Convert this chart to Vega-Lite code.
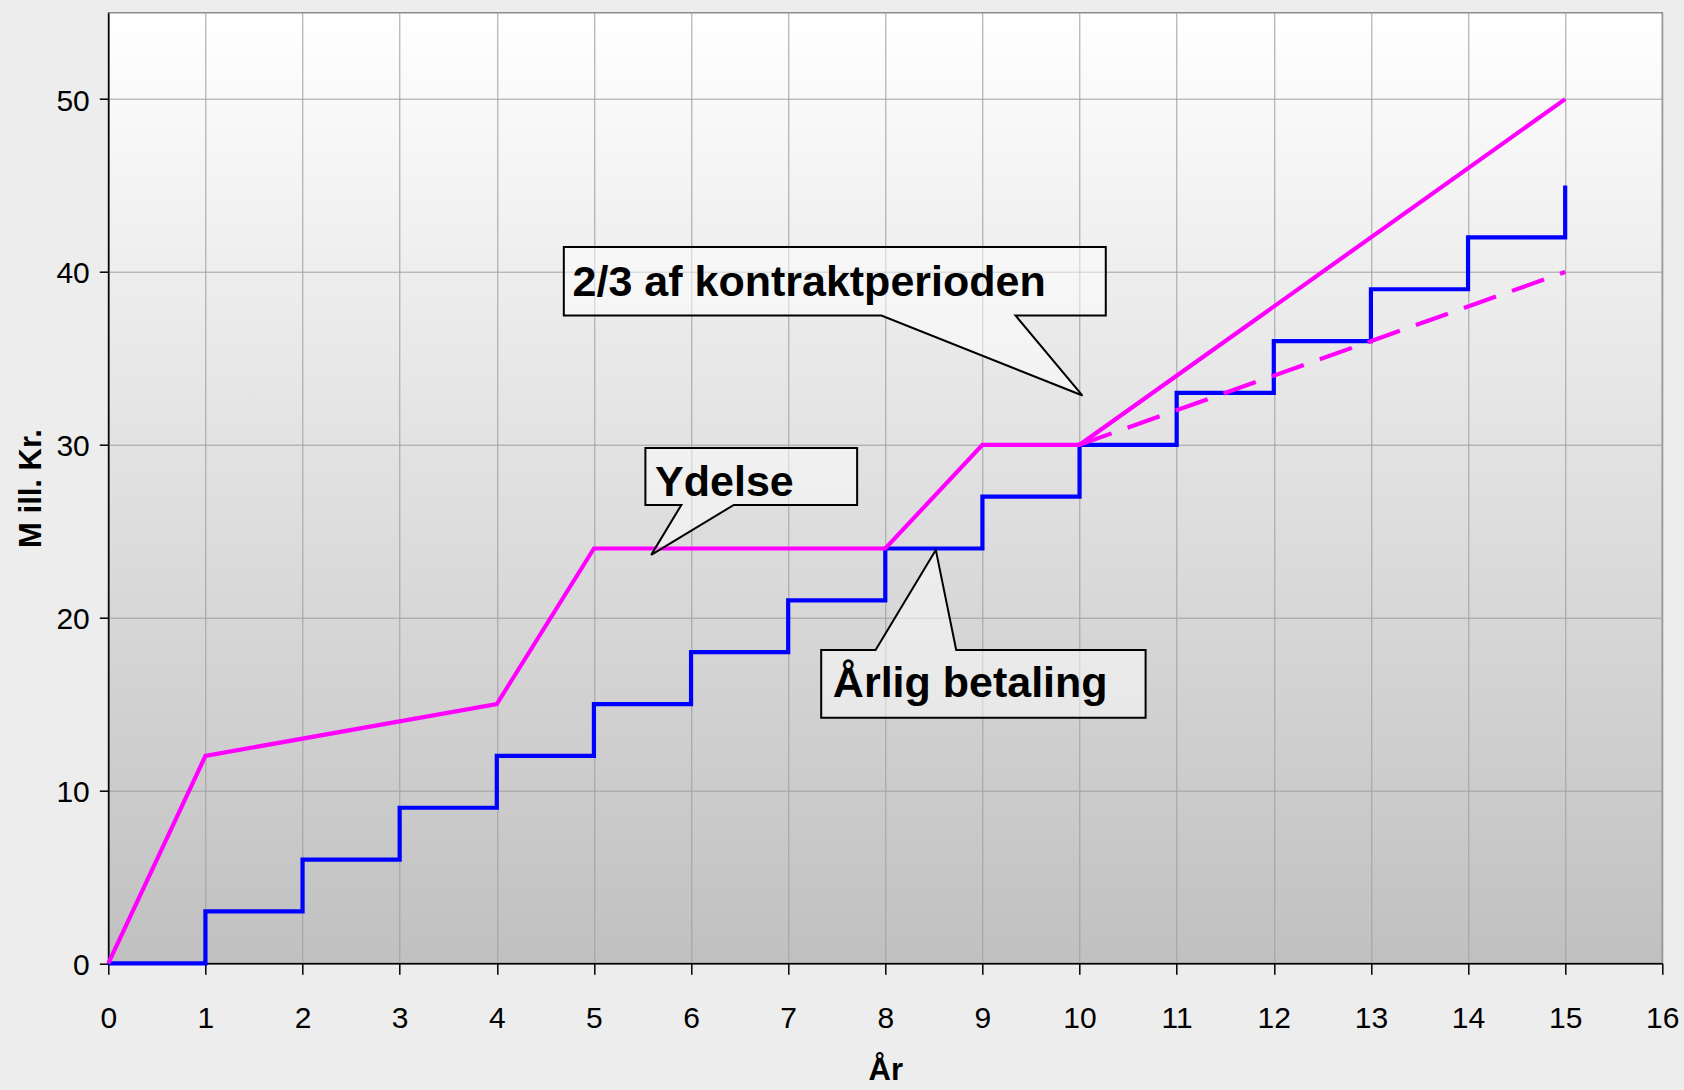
{
  "$schema": "https://vega.github.io/schema/vega-lite/v6.json",
  "width": 1554,
  "height": 950.6,
  "autosize": {"type": "none"},
  "padding": {"left": 108.3, "top": 12.7, "right": 21.7, "bottom": 126.7},
  "background": "#EDEDED",
  "config": {
    "view": {
      "fill": {"gradient": "linear", "x1": 0, "y1": 0, "x2": 0, "y2": 1,
        "stops": [{"offset": 0, "color": "#FFFFFF"}, {"offset": 1, "color": "#C0C0C0"}]},
      "stroke": "#8C8C8C",
      "strokeWidth": 1.5
    },
    "axis": {
      "gridColor": "#A0A0A0",
      "gridWidth": 1,
      "domainColor": "#000000",
      "domainWidth": 1.5,
      "tickColor": "#000000",
      "tickWidth": 1.5,
      "labelFont": "Liberation Sans",
      "labelColor": "#000000",
      "labelFontSize": 30,
      "titleFont": "Liberation Sans",
      "titleFontWeight": "bold",
      "titleFontSize": 31,
      "titleColor": "#000000"
    }
  },
  "datasets": {
    "ydelse": [
      {"x": 0, "y": 0}, {"x": 1, "y": 12}, {"x": 4, "y": 15}, {"x": 5, "y": 24},
      {"x": 8, "y": 24}, {"x": 9, "y": 30}, {"x": 10, "y": 30}, {"x": 15, "y": 50}
    ],
    "dashed": [
      {"x": 10, "y": 30}, {"x": 15, "y": 40}
    ],
    "betaling": [
      {"x": 0, "y": 0}, {"x": 1, "y": 3}, {"x": 2, "y": 6}, {"x": 3, "y": 9},
      {"x": 4, "y": 12}, {"x": 5, "y": 15}, {"x": 6, "y": 18}, {"x": 7, "y": 21},
      {"x": 8, "y": 24}, {"x": 9, "y": 27}, {"x": 10, "y": 30}, {"x": 11, "y": 33},
      {"x": 12, "y": 36}, {"x": 13, "y": 39}, {"x": 14, "y": 42}, {"x": 15, "y": 45}
    ],
    "callouts": [
      {"c": "kontrakt", "i": 0, "x": 4.69, "y": 41.44},
      {"c": "kontrakt", "i": 1, "x": 10.27, "y": 41.44},
      {"c": "kontrakt", "i": 2, "x": 10.27, "y": 37.48},
      {"c": "kontrakt", "i": 3, "x": 9.34, "y": 37.48},
      {"c": "kontrakt", "i": 4, "x": 10.03, "y": 32.85},
      {"c": "kontrakt", "i": 5, "x": 7.96, "y": 37.48},
      {"c": "kontrakt", "i": 6, "x": 4.69, "y": 37.48},
      {"c": "ydelse", "i": 0, "x": 5.53, "y": 29.82},
      {"c": "ydelse", "i": 1, "x": 7.71, "y": 29.82},
      {"c": "ydelse", "i": 2, "x": 7.71, "y": 26.52},
      {"c": "ydelse", "i": 3, "x": 6.44, "y": 26.52},
      {"c": "ydelse", "i": 4, "x": 5.59, "y": 23.63},
      {"c": "ydelse", "i": 5, "x": 5.90, "y": 26.52},
      {"c": "ydelse", "i": 6, "x": 5.53, "y": 26.52},
      {"c": "betaling", "i": 0, "x": 7.34, "y": 18.13},
      {"c": "betaling", "i": 1, "x": 7.90, "y": 18.13},
      {"c": "betaling", "i": 2, "x": 8.52, "y": 23.92},
      {"c": "betaling", "i": 3, "x": 8.73, "y": 18.13},
      {"c": "betaling", "i": 4, "x": 10.68, "y": 18.13},
      {"c": "betaling", "i": 5, "x": 10.68, "y": 14.21},
      {"c": "betaling", "i": 6, "x": 7.34, "y": 14.21}
    ],
    "labels": [
      {"x": 4.78, "y": 38.63, "text": "2/3 af kontraktperioden"},
      {"x": 5.63, "y": 27.04, "text": "Ydelse"},
      {"x": 7.46, "y": 15.39, "text": "Årlig betaling"}
    ]
  },
  "encoding": {
    "x": {
      "field": "x", "type": "quantitative",
      "scale": {"domain": [0, 16], "nice": false, "zero": false},
      "axis": {
        "values": [0,1,2,3,4,5,6,7,8,9,10,11,12,13,14,15,16],
        "title": "År",
        "tickSize": 11,
        "labelPadding": 29,
        "titlePadding": 22,
        "labelFlush": false
      }
    },
    "y": {
      "field": "y", "type": "quantitative",
      "scale": {"domain": [0, 55], "nice": false, "zero": false},
      "axis": {
        "values": [0, 10, 20, 30, 40, 50],
        "title": "M ill. Kr.",
        "tickSize": 9,
        "labelPadding": 10,
        "labelOffset": 2,
        "titlePadding": 8
      }
    }
  },
  "layer": [
    {
      "data": {"name": "betaling"},
      "mark": {"type": "line", "interpolate": "step-after", "color": "#0000FF", "strokeWidth": 4.2, "clip": false}
    },
    {
      "data": {"name": "ydelse"},
      "mark": {"type": "line", "color": "#FF00FF", "strokeWidth": 4.2}
    },
    {
      "data": {"name": "dashed"},
      "mark": {"type": "line", "color": "#FF00FF", "strokeWidth": 4.2, "strokeDash": [34, 17]}
    },
    {
      "data": {"name": "callouts"},
      "mark": {"type": "line", "interpolate": "linear-closed", "stroke": "#000000", "strokeWidth": 2, "fill": "#FFFFFF", "fillOpacity": 0.5},
      "encoding": {
        "detail": {"field": "c"},
        "order": {"field": "i", "type": "quantitative"}
      }
    },
    {
      "data": {"name": "labels"},
      "mark": {"type": "text", "align": "left", "baseline": "alphabetic", "font": "Liberation Sans", "fontWeight": "bold", "fontSize": 43, "color": "#000000"},
      "encoding": {
        "text": {"field": "text"}
      }
    }
  ]
}
